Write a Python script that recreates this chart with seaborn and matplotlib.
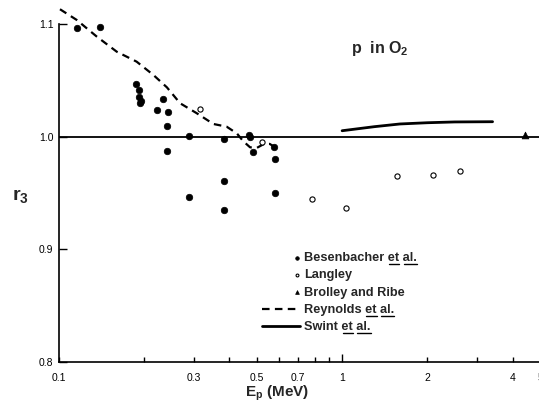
import numpy as np
import pandas as pd
import matplotlib
matplotlib.use("Agg")
import matplotlib.pyplot as plt
import seaborn as sns
from matplotlib.legend_handler import HandlerPathCollection

# ---------------- data ----------------
bes_x = [0.1155, 0.1396, 0.187, 0.192, 0.191, 0.195, 0.193, 0.2325, 0.2213, 0.242,
         0.2405, 0.2405, 0.2887, 0.288, 0.383, 0.382, 0.382, 0.4706, 0.471, 0.4835,
         0.5765, 0.578, 0.578]
bes_y = [1.096, 1.0975, 1.047, 1.041, 1.035, 1.032, 1.030, 1.0334, 1.0236, 1.0221,
         1.0094, 0.9875, 1.0005, 0.9467, 0.9979, 0.9606, 0.935, 1.0014, 0.9994, 0.9866,
         0.9905, 0.9804, 0.9502]

lan_x = [0.315, 0.520, 0.782, 1.033, 1.561, 2.092, 2.606]
lan_y = [1.0245, 0.9949, 0.9444, 0.9369, 0.965, 0.9662, 0.9695]

bro_x = [4.43]
bro_y = [1.0014]

rey_x = [0.1008, 0.1155, 0.136, 0.160, 0.188, 0.2154, 0.2405, 0.2677, 0.3067, 0.3509,
         0.391, 0.425, 0.447, 0.473, 0.50, 0.53, 0.555, 0.58]
rey_y = [1.113, 1.1035, 1.0887, 1.0753, 1.0665, 1.0547, 1.0437, 1.0296, 1.0207, 1.0112,
         1.0088, 1.0028, 0.996, 0.9905, 0.990, 0.9935, 0.9935, 0.9905]

swi_x = [1.0, 1.3, 1.6, 2.0, 2.5, 3.4]
swi_y = [1.0052, 1.0088, 1.0112, 1.0123, 1.0130, 1.0132]

xticks = [0.1, 0.2, 0.3, 0.4, 0.5, 0.6, 0.7, 0.8, 0.9, 1, 2, 3, 4, 5]
xticklabels = ["0.1", "", "0.3", "", "0.5", "", "0.7", "", "", "1", "2", "", "4", "5"]
yticks = [0.8, 0.9, 1.0, 1.1]
yticklabels = ["0.8", "0.9", "1.0", "1.1"]

labels = ["Besenbacher et al.", "Langley", "Brolley and Ribe",
          "Reynolds et al.", "Swint et al."]
underlined = "et al."

# ---------------- style ----------------
sns.set_theme(style="white")
plt.rcParams["font.family"] = ["Liberation Sans", "DejaVu Sans"]
plt.rcParams["font.weight"] = "bold"
plt.rcParams["mathtext.fontset"] = "custom"
plt.rcParams["mathtext.rm"] = "Liberation Sans:bold"
plt.rcParams["mathtext.bf"] = "Liberation Sans:bold"
plt.rcParams["mathtext.it"] = "Liberation Sans:bold"

fig = plt.figure(figsize=(5.39, 4.08), dpi=100)
ax = fig.add_axes([59 / 539, 46 / 408, 481 / 539, 362 / 408])

bes = pd.DataFrame({"x": bes_x, "y": bes_y})
lan = pd.DataFrame({"x": lan_x, "y": lan_y})
bro = pd.DataFrame({"x": bro_x, "y": bro_y})
rey = pd.DataFrame({"x": rey_x, "y": rey_y})
swi = pd.DataFrame({"x": swi_x, "y": swi_y})

ax.axhline(1.0, color="black", lw=1.3, zorder=1)

sns.scatterplot(data=bes, x="x", y="y", ax=ax, s=22, color="black",
                edgecolor="black", linewidth=0.5, label=labels[0], zorder=3)
sns.scatterplot(data=lan, x="x", y="y", ax=ax, s=14, facecolor="white",
                edgecolor="black", linewidth=0.8, label=labels[1], zorder=3)
sns.scatterplot(data=bro, x="x", y="y", ax=ax, s=24, marker="^", color="black",
                edgecolor="black", linewidth=0.5, label=labels[2], zorder=3)
sns.lineplot(data=rey, x="x", y="y", ax=ax, color="black", lw=1.6,
             linestyle=(0, (3.4, 2.4)), estimator=None, sort=False,
             label=labels[3], zorder=2)
sns.lineplot(data=swi, x="x", y="y", ax=ax, color="black", lw=2.0,
             estimator=None, sort=False, label=labels[4], zorder=2)

ax.set_xscale("log")
ax.set_xlim(0.1, 5)
ax.set_ylim(0.8, 1.1212)
ax.xaxis.set_minor_locator(matplotlib.ticker.NullLocator())
ax.yaxis.set_minor_locator(matplotlib.ticker.NullLocator())
ax.set_xticks(xticks)
ax.set_xticklabels(xticklabels, fontsize=7.5, fontweight="normal")
ax.set_yticks(yticks)
ax.set_yticklabels(yticklabels, fontsize=7.5, fontweight="normal")
ax.tick_params(axis="x", direction="in", length=3.6, width=1.0, pad=8,
               colors="black", bottom=True)
ax.tick_params(axis="y", direction="in", length=6, width=1.0, pad=4,
               colors="black", left=True)
for t, v in zip(ax.xaxis.get_major_ticks(), xticks):
    if v == 1:
        t.tick1line.set_markersize(6)

for s in ["top", "right"]:
    ax.spines[s].set_visible(False)
for s in ["left", "bottom"]:
    ax.spines[s].set_color("black")
    ax.spines[s].set_linewidth(1.2)
ax.spines["left"].set_bounds(0.8, 1.1)

ax.set_xlabel(r"E$_\mathrm{p}$ (MeV)", fontsize=11, fontweight="bold", va="center")
ax.xaxis.set_label_coords((277 - 59) / 481, -(393 - 362) / 362)
ax.set_ylabel(r"r$_3$", fontsize=14, fontweight="bold", rotation=0)
ax.yaxis.set_label_coords((20 - 59) / 481, (362 - 205) / 362)

ax.text((380 - 59) / 481, (362 - 49) / 362, r"p  in O$_2$", transform=ax.transAxes,
        ha="center", va="center", fontsize=11.5, fontweight="bold")


class RightMarkerHandler(HandlerPathCollection):
    def get_xdata(self, legend, xdescent, ydescent, width, height, fontsize):
        xm = -xdescent + width - 2.5
        return np.array([-xdescent, -xdescent + width]), np.array([xm])


handles, labs = ax.get_legend_handles_labels()
hmap = {h: RightMarkerHandler() for h in handles[:3]}
leg = ax.legend(handles, labs, loc="upper left",
                bbox_to_anchor=((262 - 59) / 481, (362 - 252) / 362),
                frameon=False, borderpad=0, borderaxespad=0,
                handlelength=3.0, handletextpad=0.3, labelspacing=0.42,
                scatterpoints=1, markerscale=0.55, handler_map=hmap,
                prop={"size": 9.2, "weight": "bold"})

# underline "et" and "al." in legend labels
fig.canvas.draw()
renderer = fig.canvas.get_renderer()
inv = fig.transFigure.inverted()
for txt in leg.get_texts():
    s = txt.get_text()
    if not s.endswith(underlined):
        continue
    bb = txt.get_window_extent(renderer)
    prop = txt.get_fontproperties()

    def w(sub):
        return renderer.get_text_width_height_descent(sub, prop, ismath=False)[0]

    base_w = w(s)
    start = len(s) - len(underlined)
    segs = [(start, start + 2), (start + 3, len(s))]
    yline = bb.y0 + 0.5
    for a, b in segs:
        xa = bb.x0 + w(s[:a]) * bb.width / base_w + 1
        xb = bb.x0 + w(s[:b]) * bb.width / base_w
        p0 = inv.transform((xa, yline))
        p1 = inv.transform((xb, yline))
        fig.add_artist(plt.Line2D([p0[0], p1[0]], [p0[1], p1[1]],
                                  transform=fig.transFigure, color="black", lw=1.0))

fig.savefig("out.png", dpi=100)
